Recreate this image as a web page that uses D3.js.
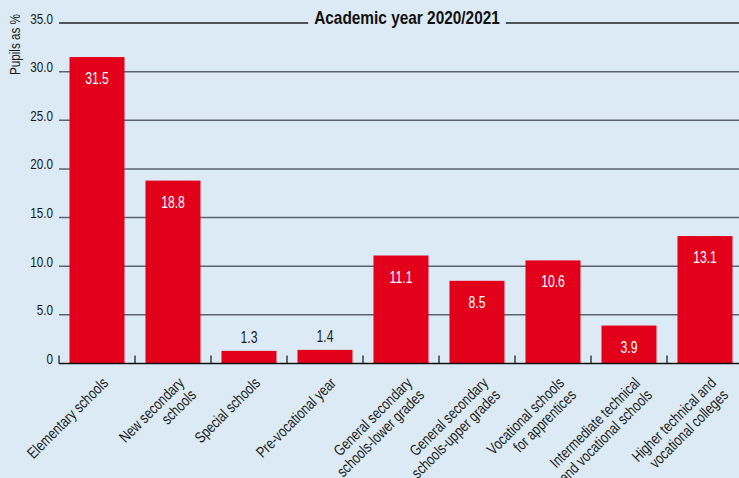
<!DOCTYPE html>
<html>
<head>
<meta charset="utf-8">
<script src="https://cdn.jsdelivr.net/npm/d3@7"></script>
<style>
  html, body { margin: 0; padding: 0; background: #dceaf5; }
  svg { display: block; font-family: "Liberation Sans", Arial, sans-serif; }
</style>
</head>
<body>
<svg id="chart" width="739" height="478"></svg>
<script>
// School types (line breaks marked with "|")
const categories = [
  "Elementary schools",
  "New secondary|schools",
  "Special schools",
  "Pre-vocational year",
  "General secondary|schools-lower grades",
  "General secondary|schools-upper grades",
  "Vocational schools|for apprentices",
  "Intermediate technical|and vocational schools",
  "Higher technical and|vocational colleges"
];
const shares = [31.5, 18.8, 1.3, 1.4, 11.1, 8.5, 10.6, 3.9, 13.1];
const yTicks = [0, 5, 10, 15, 20, 25, 30, 35];
const title = "Academic year 2020/2021";
const yTitle = "Pupils as %";

const W = 739, H = 478;
const BG = "#dceaf5";
const INK = "#1a1a1a";
const svg = d3.select("#chart");
svg.append("rect").attr("width", W).attr("height", H).attr("fill", BG);

const x = d3.scaleBand().domain(categories).range([59, 743]).paddingInner(0.276).paddingOuter(0.138);
const y = d3.scaleLinear().domain([0, 35]).range([363.5, 23]);

// Gridlines
const grid = svg.append("g");
yTicks.filter(t => t > 0).forEach(t => {
  grid.append("line")
    .attr("x1", 59).attr("x2", W)
    .attr("y1", y(t)).attr("y2", y(t))
    .attr("stroke", t === 35 ? "#1e2226" : "#5d636b")
    .attr("stroke-width", 1.5);
});

// Y tick labels (horizontally squeezed for a condensed look)
svg.append("g").selectAll("text")
  .data(yTicks)
  .join("text")
  .attr("transform", d => `translate(53,${y(d) + 0.5}) scale(0.78,1)`)
  .attr("text-anchor", "end")
  .attr("font-size", 15).attr("fill", INK)
  .text(d => d === 0 ? "0" : d3.format(".1f")(d));

// Y axis title
svg.append("text")
  .attr("transform", "translate(20,14) rotate(-90) scale(0.78,1)")
  .attr("text-anchor", "end")
  .attr("font-size", 15).attr("fill", INK)
  .text(yTitle);

// Chart title, with a background patch that breaks the top gridline
const tg = svg.append("g");
const tt = tg.append("text")
  .attr("transform", "translate(407,24) scale(0.88,1)")
  .attr("text-anchor", "middle")
  .attr("font-size", 17.5).attr("font-weight", "bold").attr("fill", "#111")
  .text(title);
const tw = tt.node().getComputedTextLength() * 0.88;
tg.insert("rect", "text")
  .attr("x", 407 - tw / 2 - 6).attr("y", 15).attr("width", tw + 12).attr("height", 16)
  .attr("fill", BG);

// Bars
svg.append("g").selectAll("rect")
  .data(shares)
  .join("rect")
  .attr("x", (d, i) => x(categories[i]))
  .attr("width", x.bandwidth())
  .attr("y", d => y(d))
  .attr("height", d => y(0) - y(d))
  .attr("fill", "#e2001a");

// Value labels: inside the bar in white, above it for very short bars
svg.append("g").selectAll("text")
  .data(shares)
  .join("text")
  .attr("transform", (d, i) => {
    const cx = x(categories[i]) + x.bandwidth() / 2;
    const ty = d < 2 ? y(d) - 8 : y(d) + 27;
    return `translate(${cx},${ty}) scale(0.74,1)`;
  })
  .attr("text-anchor", "middle")
  .attr("font-size", 16.5)
  .attr("fill", d => d < 2 ? INK : "#ffffff")
  .text(d => d3.format(".1f")(d));

// X axis baseline with ticks at band boundaries
const xa = svg.append("g");
xa.append("line")
  .attr("x1", 59).attr("x2", W)
  .attr("y1", y(0)).attr("y2", y(0))
  .attr("stroke", "#111").attr("stroke-width", 1.5);
categories.map(c => x(c) - x.step() * x.paddingInner() / 2).forEach(b => {
  xa.append("line")
    .attr("x1", b).attr("x2", b)
    .attr("y1", y(0) - 8).attr("y2", y(0))
    .attr("stroke", "#111").attr("stroke-width", 1.2);
});

// Rotated category labels
const lab = svg.append("g").selectAll("text")
  .data(categories)
  .join("text")
  .attr("transform", c => `translate(${x(c) + x.bandwidth() / 2 + 12},384) rotate(-45) scale(0.79,1)`)
  .attr("text-anchor", "end")
  .attr("font-size", 15.5)
  .attr("fill", INK);
lab.each(function(c) {
  const t = d3.select(this);
  c.split("|").forEach((line, i) => {
    t.append("tspan").attr("x", 0).attr("y", i * 17).text(line);
  });
});
</script>
</body>
</html>
